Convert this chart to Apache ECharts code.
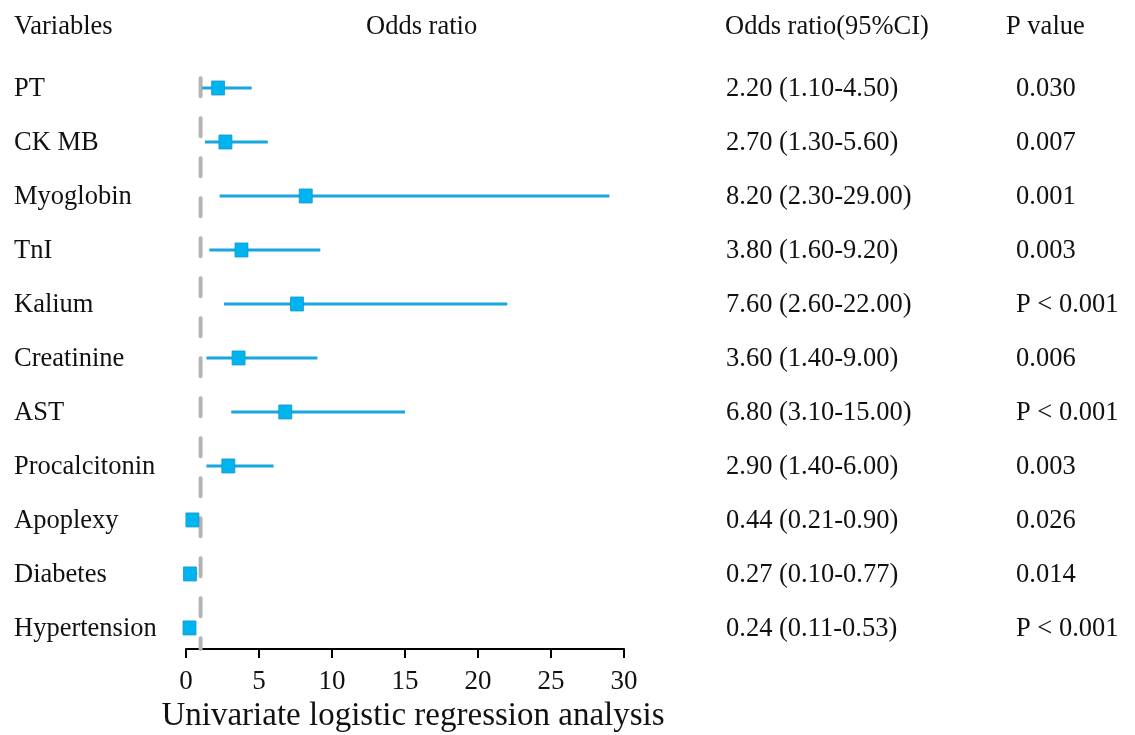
<!DOCTYPE html>
<html>
<head>
<meta charset="utf-8">
<script src="https://cdn.jsdelivr.net/npm/echarts@6/dist/echarts.min.js"></script>
<style>
  html, body { margin: 0; padding: 0; background: #fff; }
  #chart { width: 1135px; height: 735px; }
</style>
</head>
<body>
<div id="chart"></div>
<script>
// forest plot data, top row first
const variables = ['PT', 'CK MB', 'Myoglobin', 'TnI', 'Kalium', 'Creatinine', 'AST', 'Procalcitonin', 'Apoplexy', 'Diabetes', 'Hypertension'];
const oddsRatio = [2.20, 2.70, 8.20, 3.80, 7.60, 3.60, 6.80, 2.90, 0.44, 0.27, 0.24];
const ciLow = [1.10, 1.30, 2.30, 1.60, 2.60, 1.40, 3.10, 1.40, 0.21, 0.10, 0.11];
const ciHigh = [4.50, 5.60, 29.00, 9.20, 22.00, 9.00, 15.00, 6.00, 0.90, 0.77, 0.53];
const pValues = ['0.030', '0.007', '0.001', '0.003', 'P < 0.001', '0.006', 'P < 0.001', '0.003', '0.026', '0.014', 'P < 0.001'];

const font = '"Liberation Serif", "Times New Roman", serif';
const txt = '#111';
const fs = '26.5px ';

const rows = variables.map((v, i) => [oddsRatio[i], i, ciLow[i], ciHigh[i]]);
const fmt = (i) => oddsRatio[i].toFixed(2) + ' (' + ciLow[i].toFixed(2) + '-' + ciHigh[i].toFixed(2) + ')';

const chart = echarts.init(document.getElementById('chart'));
chart.setOption({
  animation: false,
  grid: { left: 186, width: 438, top: 34, height: 615, containLabel: false, outerBoundsMode: 'none' },
  xAxis: {
    type: 'value', min: 0, max: 30, interval: 5,
    splitLine: { show: false },
    axisLine: { show: true, onZero: false, lineStyle: { color: '#000', width: 2 } },
    axisTick: { show: true, length: 9, lineStyle: { color: '#000', width: 2 } },
    axisLabel: { color: txt, fontFamily: font, fontSize: 27, margin: 19 },
    name: 'Univariate logistic regression analysis',
    nameLocation: 'middle', nameGap: 50,
    nameTextStyle: { color: txt, fontFamily: font, fontSize: 33, padding: [0, 0, 0, 16] }
  },
  yAxis: {
    type: 'value', inverse: true, min: -1, max: 10.39,
    show: false
  },
  graphic: [
    { type: 'text', x: 14, y: 27, style: { text: 'Variables', font: fs + font, fill: txt, verticalAlign: 'middle' } },
    { type: 'text', x: 366, y: 27, style: { text: 'Odds ratio', font: fs + font, fill: txt, verticalAlign: 'middle' } },
    { type: 'text', x: 725, y: 27, style: { text: 'Odds ratio(95%CI)', font: fs + font, fill: txt, verticalAlign: 'middle' } },
    { type: 'text', x: 1006, y: 27, style: { text: 'P value', font: fs + font, fill: txt, verticalAlign: 'middle' } }
  ],
  series: [
    {
      type: 'line',
      data: [[1, -0.18], [1, 10.39]],
      symbol: 'none',
      lineStyle: { color: '#b4b4b4', width: 4, type: [18, 22], cap: 'round' },
      z: 1
    },
    {
      type: 'custom',
      data: rows,
      z: 2,
      renderItem: (params, api) => {
        const a = api.coord([api.value(2), api.value(1)]);
        const b = api.coord([api.value(3), api.value(1)]);
        return {
          type: 'line',
          shape: { x1: a[0], y1: a[1], x2: b[0], y2: b[1] },
          style: { stroke: '#18a6de', lineWidth: 3 }
        };
      }
    },
    {
      type: 'scatter',
      data: rows.map(r => [r[0], r[1]]),
      symbol: 'rect',
      symbolSize: [13, 14],
      itemStyle: { color: '#00b4f0', borderColor: '#1597cc', borderWidth: 0.8, opacity: 1 },
      z: 3
    },
    {
      type: 'custom',
      data: rows,
      clip: false,
      silent: true,
      renderItem: (params, api) => {
        const i = params.dataIndex;
        const y = api.coord([0, api.value(1)])[1] + 1.5;
        const mk = (x, s) => ({
          type: 'text', x: x, y: y,
          style: { text: s, font: fs + font, fill: txt, verticalAlign: 'middle', align: 'left' }
        });
        return { type: 'group', children: [mk(14, variables[i]), mk(726, fmt(i)), mk(1016, pValues[i])] };
      }
    }
  ]
});
</script>
</body>
</html>
